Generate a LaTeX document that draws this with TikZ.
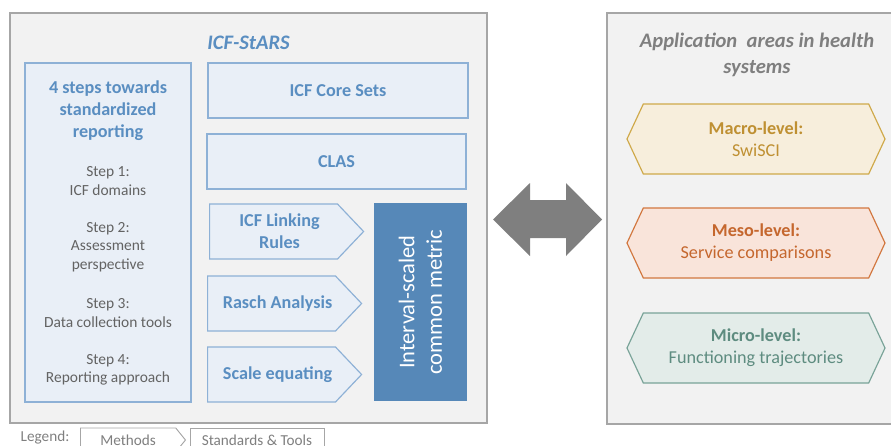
\documentclass[tikz,border=0pt]{standalone}
\usepackage{fontspec}
\setmainfont{Carlito}
\usepackage{xcolor}
\usetikzlibrary{positioning}
\usetikzlibrary{shapes.symbols}

\definecolor{panelfill}{HTML}{F2F2F2}
\definecolor{paneldraw}{HTML}{A6A6A6}
\definecolor{boxfill}{HTML}{E9EFF7}
\definecolor{boxdraw}{HTML}{8EB1D6}
\definecolor{boxtext}{HTML}{5A8EC1}
\definecolor{steptext}{HTML}{636363}
\definecolor{metricfill}{HTML}{5688B8}
\definecolor{arrowgray}{HTML}{7F7F7F}
\definecolor{macrofill}{HTML}{F7EEDC}
\definecolor{macrodraw}{HTML}{CFA94A}
\definecolor{macrotext}{HTML}{BF9032}
\definecolor{mesofill}{HTML}{F9E4DA}
\definecolor{mesodraw}{HTML}{D2773F}
\definecolor{mesotext}{HTML}{C5672E}
\definecolor{microfill}{HTML}{E3ECE9}
\definecolor{microdraw}{HTML}{79A398}
\definecolor{microtext}{HTML}{5E8C80}

\newcommand{\pxu}{0.03cm}

\tikzset{
  panel/.style={draw=paneldraw, fill=panelfill, line width=1.2pt, inner sep=0pt},
  paneltitle/.style={font=\bfseries\itshape\fontsize{17.6}{22}\selectfont, align=center},
  stdbox/.style={draw=boxdraw, fill=boxfill, line width=1pt, inner sep=0pt, text=boxtext,
    font=\bfseries\fontsize{15.5}{18.5}\selectfont, align=center},
  methodlbl/.style={text=boxtext, font=\bfseries\fontsize{15.5}{18.5}\selectfont, align=center},
  methodbox/.style={stdbox, signal, signal to=east, signal pointer angle=93,
    minimum width=154*\pxu, minimum height=55*\pxu, anchor=west,
    label={[methodlbl, xshift=6*\pxu]center:#1}},
  steptxt/.style={text=steptext, font=\fontsize{13.2}{15.6}\selectfont, align=center},
  level/.style={signal, signal to=east and west, signal pointer angle=130, line width=1pt,
    inner sep=0pt, minimum width=258*\pxu, minimum height=70*\pxu, align=center,
    font=\fontsize{15.5}{18.8}\selectfont},
  legendtxt/.style={text=arrowgray, font=\fontsize{13}{15}\selectfont},
  legendbox/.style={draw=paneldraw, fill=white, line width=0.8pt, inner sep=0pt,
    minimum height=24*\pxu, text=arrowgray, font=\fontsize{13}{15}\selectfont},
}

\begin{document}
\begin{tikzpicture}[x=\pxu, y=-\pxu]
  \useasboundingbox (0,0) rectangle (891,445);

  % panels
  \node[panel, minimum width=477*\pxu, minimum height=410*\pxu] (stars) at (248.5,218) {};
  \node[panel, minimum width=300*\pxu, minimum height=411*\pxu] (areas) at (757,218.5) {};
  \node[paneltitle, text=boxtext] (starstitle) at (248.5,43) {ICF-StARS};
  \node[paneltitle, text=arrowgray] (areastitle) at (757,55) {Application\ \ areas in health\\systems};

  % 4 steps
  \node[stdbox, minimum width=166*\pxu, minimum height=339*\pxu] (steps) at (108,232.5) {};
  \node[stdbox, draw=none, fill=none, font=\bfseries\fontsize{15.5}{18.8}\selectfont] (stepstitle) at (108,111) {4 steps towards\\standardized\\reporting};
  \node[steptxt] (step1) at (108,181) {Step 1:\\ICF domains};
  \node[steptxt] (step2) at (108,247) {Step 2:\\Assessment\\perspective};
  \node[steptxt] (step3) at (108,313) {Step 3:\\Data collection tools};
  \node[steptxt] (step4) at (108,370) {Step 4:\\Reporting approach};

  % standards & tools
  \node[stdbox, minimum width=260*\pxu, minimum height=55*\pxu] (coresets) at (338,90.5) {ICF Core Sets};
  \node[stdbox, minimum width=259*\pxu, minimum height=55*\pxu] (clas) at (336.5,161.5) {CLAS};

  % methods
  \node[methodbox={ICF Linking\\Rules}] (linking) at (209,231.5) {};
  \node[methodbox={Rasch Analysis}] (rasch) at (207,303.5) {};
  \node[methodbox={Scale equating}] (equating) at (207,374.5) {};

  \node[fill=metricfill, inner sep=0pt, minimum width=198*\pxu, minimum height=93*\pxu,
    rotate=90, text=white, align=center, font=\fontsize{19.2}{23.5}\selectfont] (metric) at (420.5,302) {Interval-scaled\\common metric};

  % double arrow
  \coordinate (link) at (547.5,219.5);
  \fill[arrowgray] (link) ++(-54.5,0) -- ++(37,-36.5) -- ++(0,17) -- ++(36,0) -- ++(0,-17)
    -- ++(36,36.5) -- ++(-36,36.5) -- ++(0,-18) -- ++(-36,0) -- ++(0,18) -- cycle;

  % application areas
  \node[level, fill=macrofill, draw=macrodraw, text=macrotext] (macro) at (756,139) {\textbf{Macro-level:}\\SwiSCI};
  \node[level, fill=mesofill, draw=mesodraw, text=mesotext] (meso) at (756,243) {\textbf{Meso-level:}\\Service comparisons};
  \node[level, fill=microfill, draw=microdraw, text=microtext] (micro) at (756,348) {\textbf{Micro-level:}\\Functioning trajectories};

  % legend
  \node[legendtxt] (legend) at (45,437.5) {Legend:};
  \node[legendbox, signal, signal to=east, signal pointer angle=102, minimum width=105*\pxu, anchor=west] (legmethods) at (80,440) {Methods\hspace{10pt}};
  \node[legendbox, minimum width=134*\pxu] (legstandards) at (257,440) {Standards \& Tools};
\end{tikzpicture}
\end{document}
